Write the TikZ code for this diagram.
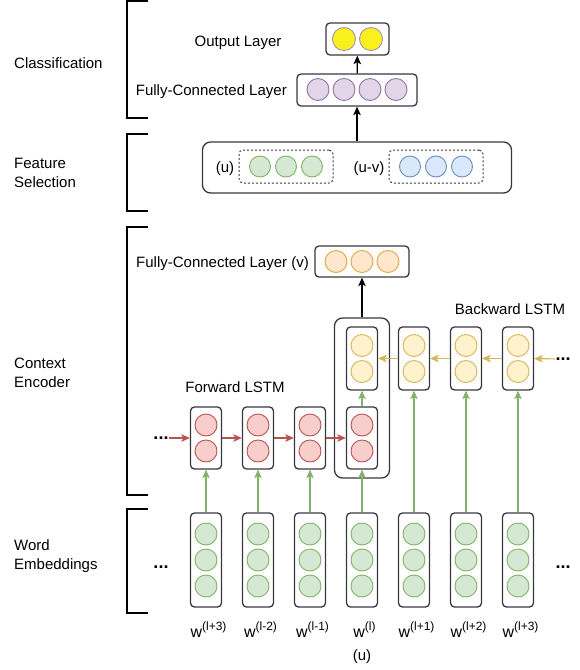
\documentclass[tikz,border=0pt]{standalone}
\usepackage{fontspec}
\setmainfont{Liberation Sans}
\usetikzlibrary{arrows.meta}

\definecolor{frame}{HTML}{36393D}
\definecolor{grnF}{HTML}{D5E8D4}\definecolor{grnD}{HTML}{82B366}
\definecolor{redF}{HTML}{F8CECC}\definecolor{redD}{HTML}{B85450}
\definecolor{ylwF}{HTML}{FFF2CC}\definecolor{ylwD}{HTML}{D6B656}
\definecolor{orgF}{HTML}{FFE6CC}\definecolor{orgD}{HTML}{E0A840}
\definecolor{purF}{HTML}{E1D5E7}\definecolor{purD}{HTML}{9673A6}
\definecolor{bluF}{HTML}{DAE8FC}\definecolor{bluD}{HTML}{6C8EBF}
\definecolor{outF}{HTML}{FAF01E}\definecolor{outD}{HTML}{A88FB8}

\tikzset{
  unit/.style={circle, inner sep=0pt, minimum size=22pt, line width=0.9pt},
  grnunit/.style={unit, fill=grnF, draw=grnD},
  redunit/.style={unit, fill=redF, draw=redD},
  ylwunit/.style={unit, fill=ylwF, draw=ylwD},
  orgunit/.style={unit, fill=orgF, draw=orgD},
  purunit/.style={unit, fill=purF, draw=purD},
  bluunit/.style={unit, fill=bluF, draw=bluD},
  outunit/.style={unit, minimum size=23pt, fill=outF, draw=outD},
  layerbox/.style={draw=frame, rounded corners=4pt, line width=1.3pt, inner sep=0pt},
  groupbox/.style={draw=frame, rounded corners=8pt, line width=1.3pt, inner sep=0pt},
  dashbox/.style={draw=frame, dash pattern=on 2pt off 2pt, rounded corners=4pt, line width=1pt, inner sep=0pt},
  lbl/.style={font=\fontsize{15}{19}\selectfont, inner sep=0pt, text height=11pt, text depth=3pt},
  sidelbl/.style={font=\fontsize{15}{19}\selectfont, inner sep=0pt, align=left, anchor=west},
  dots/.style={font=\fontsize{18}{18}\selectfont\bfseries, inner sep=0pt, text height=2.6pt, text depth=0pt},
  tip/.style={-{Stealth[length=8.5pt, width=7.5pt, inset=2pt]}},
  blkarrow/.style={tip, draw=black, line width=1.2pt},
  redarrow/.style={tip, draw=redD, line width=1.2pt},
  ylwarrow/.style={tip, draw=ylwD, line width=1.2pt},
  grnarrow/.style={tip, draw=grnD, line width=1.2pt},
  bracket/.style={draw=black, line width=2.4pt}
}

\begin{document}
\begin{tikzpicture}[x=1pt, y=-1pt]
\useasboundingbox (0,0) rectangle (580,670);

% ---- section brackets and their names
\draw[bracket] (148,1) -- (127,1) -- (127,118) -- (148,118);
\draw[bracket] (148,134) -- (127,134) -- (127,211) -- (148,211);
\draw[bracket] (148,227) -- (127,227) -- (127,495) -- (148,495);
\draw[bracket] (148,509) -- (127,509) -- (127,613) -- (148,613);

\node[sidelbl] (secCls) at (14,63) {Classification};
\node[sidelbl] (secFeat) at (14,172.5) {Feature\\Selection};
\node[sidelbl] (secCtx) at (14,373) {Context\\Encoder};
\node[sidelbl] (secEmb) at (14,556.5) {Word\\Embeddings};

% ---- classification layers
\node[layerbox, minimum width=63pt, minimum height=32pt] (out) at (357.5,39) {};
\node[outunit] (out-1) at (344,39) {};
\node[outunit] (out-2) at (371,39) {};
\node[lbl] (outlbl) at (238,42) {Output Layer};

\node[layerbox, minimum width=120pt, minimum height=32pt] (fc) at (357,90) {};
\foreach \x [count=\j] in {318,344,370,396}
  \node[purunit] (fc-\j) at (\x,89.5) {};
\node[lbl, anchor=east] (fclbl) at (287,91) {Fully-Connected Layer};

% ---- feature selection
\node[groupbox, minimum width=309pt, minimum height=51pt] (feat) at (357,167.5) {};
\node[lbl] (ulbl) at (225,168) {(u)};
\node[dashbox, minimum width=94pt, minimum height=33pt] (ubox) at (286,166.5) {};
\foreach \x [count=\j] in {260,286,312}
  \node[grnunit, minimum size=21pt] (u-\j) at (\x,166.5) {};
\node[lbl] (uvlbl) at (369,168) {(u-v)};
\node[dashbox, minimum width=94pt, minimum height=33pt] (uvbox) at (436,166.5) {};
\foreach \x [count=\j] in {410,436,462}
  \node[bluunit, minimum size=21pt] (uv-\j) at (\x,166.5) {};

% ---- context encoder
\node[layerbox, minimum width=94pt, minimum height=31pt] (fcv) at (362,261.5) {};
\foreach \x [count=\j] in {336,362,388}
  \node[orgunit] (fcv-\j) at (\x,261.5) {};
\node[lbl, anchor=east] (fcvlbl) at (309,263) {Fully-Connected Layer (v)};

\node[groupbox, minimum width=55pt, minimum height=160pt] (big) at (362,398) {};

\foreach \i/\x in {1/206,2/258,3/310,4/362} {
  \node[layerbox, minimum width=31pt, minimum height=62pt] (f\i) at (\x,438) {};
  \node[redunit] (f\i-1) at (\x,425) {};
  \node[redunit] (f\i-2) at (\x,451) {};
}
\foreach \i/\x in {4/362,5/414,6/466,7/518} {
  \node[layerbox, minimum width=31pt, minimum height=63pt] (b\i) at (\x,358.5) {};
  \node[ylwunit] (b\i-1) at (\x,345.5) {};
  \node[ylwunit] (b\i-2) at (\x,371.5) {};
}
\node[lbl] (fwdlbl) at (235,388) {Forward LSTM};
\node[lbl] (bwdlbl) at (510,310) {Backward LSTM};

\node[dots] (fdots) at (161,438) {...};
\node[dots] (bdots) at (563,359) {...};

% ---- word embeddings
\foreach \i/\x/\s in {1/206/l+3,2/258/l-2,3/310/l-1,4/362/l,5/414/l+1,6/466/l+2,7/518/l+3} {
  \node[layerbox, minimum width=31pt, minimum height=94pt] (w\i) at (\x,560) {};
  \foreach \y [count=\j] in {534,560,586}
    \node[grnunit] (w\i-\j) at (\x,\y) {};
  \node[inner sep=0pt, anchor=base] (wl\i) at (\x+2.5,637.5)
    {\fontsize{16}{16}\selectfont w\raisebox{7.5pt}{\fontsize{12}{12}\selectfont (\s)}};
}
\node[dots] (edotsL) at (161,567) {...};
\node[dots] (edotsR) at (563,567) {...};
\node[lbl] (wu) at (362,656) {(u)};

% ---- connectors
\draw[blkarrow] (fc) -- (out);
\draw[blkarrow] (feat) -- (fc);
\draw[blkarrow] (big) -- (fcv);

\draw[redarrow] (fdots) -- (f1);
\draw[redarrow] (f1) -- (f2);
\draw[redarrow] (f2) -- (f3);
\draw[redarrow] (f3) -- (f4);

\draw[ylwarrow] (bdots) -- (b7);
\draw[ylwarrow] (b7) -- (b6);
\draw[ylwarrow] (b6) -- (b5);
\draw[ylwarrow] (b5) -- (b4);

\foreach \i in {1,2,3,4}
  \draw[grnarrow] (w\i) -- (f\i);
\draw[grnarrow] (f4) -- (b4);
\foreach \i in {5,6,7}
  \draw[grnarrow] (w\i) -- (b\i);
\end{tikzpicture}
\end{document}
